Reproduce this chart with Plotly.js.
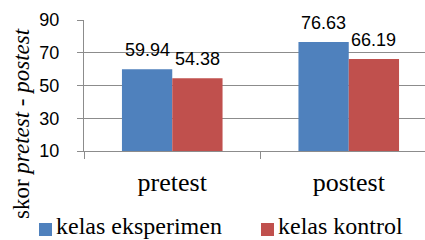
<!DOCTYPE html>
<html><head><meta charset="utf-8">
<script src="https://cdn.plot.ly/plotly-3.0.1.min.js"></script>
<style>html,body{margin:0;padding:0;overflow:hidden;background:#fff}</style>
</head><body><div id="chart"></div>
<script>
var categories = ["pretest", "postest"];
var seriesNames = ["kelas eksperimen", "kelas kontrol"];
var eksperimen = [59.94, 76.63];
var kontrol = [54.38, 66.19];
var yTicks = [10, 30, 50, 70, 90];
var colors = ["#4F81BD", "#C0504D"];

var W = 437, H = 240, L = 84, R = 0, T = 20, B = 89;
var pw = W - L - R, ph = H - T - B;
function px(x) { return (x - L) / pw; }
function py(y) { return (T + ph - y) / ph; }

var series = [eksperimen, kontrol];
var traces = series.map(function (vals, i) {
  return {
    type: "bar", x: categories, y: vals, name: seriesNames[i],
    marker: { color: colors[i], line: { width: 0 } },
    hoverinfo: "none", showlegend: false
  };
});

var annotations = [];
series.forEach(function (vals, i) {
  vals.forEach(function (v, j) {
    annotations.push({
      x: categories[j], y: v, xref: "x", yref: "y",
      text: v.toFixed(2), showarrow: false,
      xshift: i === 0 ? -25 : 25, yanchor: "bottom", yshift: 7,
      font: { family: "Liberation Sans", size: 18, color: "#000" }
    });
  });
});
// y axis title
annotations.push({
  xref: "paper", yref: "paper", x: px(21), y: py(124),
  xanchor: "center", yanchor: "middle", textangle: -90, showarrow: false,
  text: "skor <i>pretest - postest</i>",
  font: { family: "Liberation Serif", size: 23, color: "#000" }
});
// legend
var legX = [39, 261];
var shapes = [];
seriesNames.forEach(function (n, i) {
  shapes.push({
    type: "rect", xref: "paper", yref: "paper",
    x0: px(legX[i]), x1: px(legX[i] + 13), y0: py(236), y1: py(223),
    fillcolor: colors[i], line: { width: 0 }
  });
  annotations.push({
    xref: "paper", yref: "paper", x: px(legX[i] + 16), y: py(226),
    xanchor: "left", yanchor: "middle", showarrow: false, text: n,
    borderpad: 0,
    font: { family: "Liberation Serif", size: 24, color: "#000" }
  });
});

var layout = {
  width: W, height: H,
  margin: { l: L, r: R, t: T, b: B, pad: 0 },
  paper_bgcolor: "#fff", plot_bgcolor: "#fff",
  barmode: "group", bargap: 0.43, bargroupgap: 0,
  showlegend: false,
  xaxis: {
    type: "category", showline: true, linecolor: "#8c8c8c", linewidth: 1,
    ticks: "outside", tickson: "boundaries", ticklen: 7, tickcolor: "#8c8c8c",
    showgrid: false, zeroline: false, ticklabelstandoff: 8,
    tickfont: { family: "Liberation Serif", size: 26, color: "#000" }
  },
  yaxis: {
    range: [10, 90], tickvals: yTicks, ticktext: yTicks.map(String),
    showline: true, linecolor: "#8c8c8c", linewidth: 1,
    ticks: "outside", ticklen: 6, tickcolor: "#8c8c8c",
    showgrid: true, gridcolor: "#8c8c8c", gridwidth: 1, zeroline: false,
    ticklabelstandoff: 14,
    tickfont: { family: "Liberation Sans", size: 18, color: "#000" }
  },
  annotations: annotations, shapes: shapes
};
Plotly.newPlot("chart", traces, layout, { displayModeBar: false, staticPlot: true });
</script></body></html>
